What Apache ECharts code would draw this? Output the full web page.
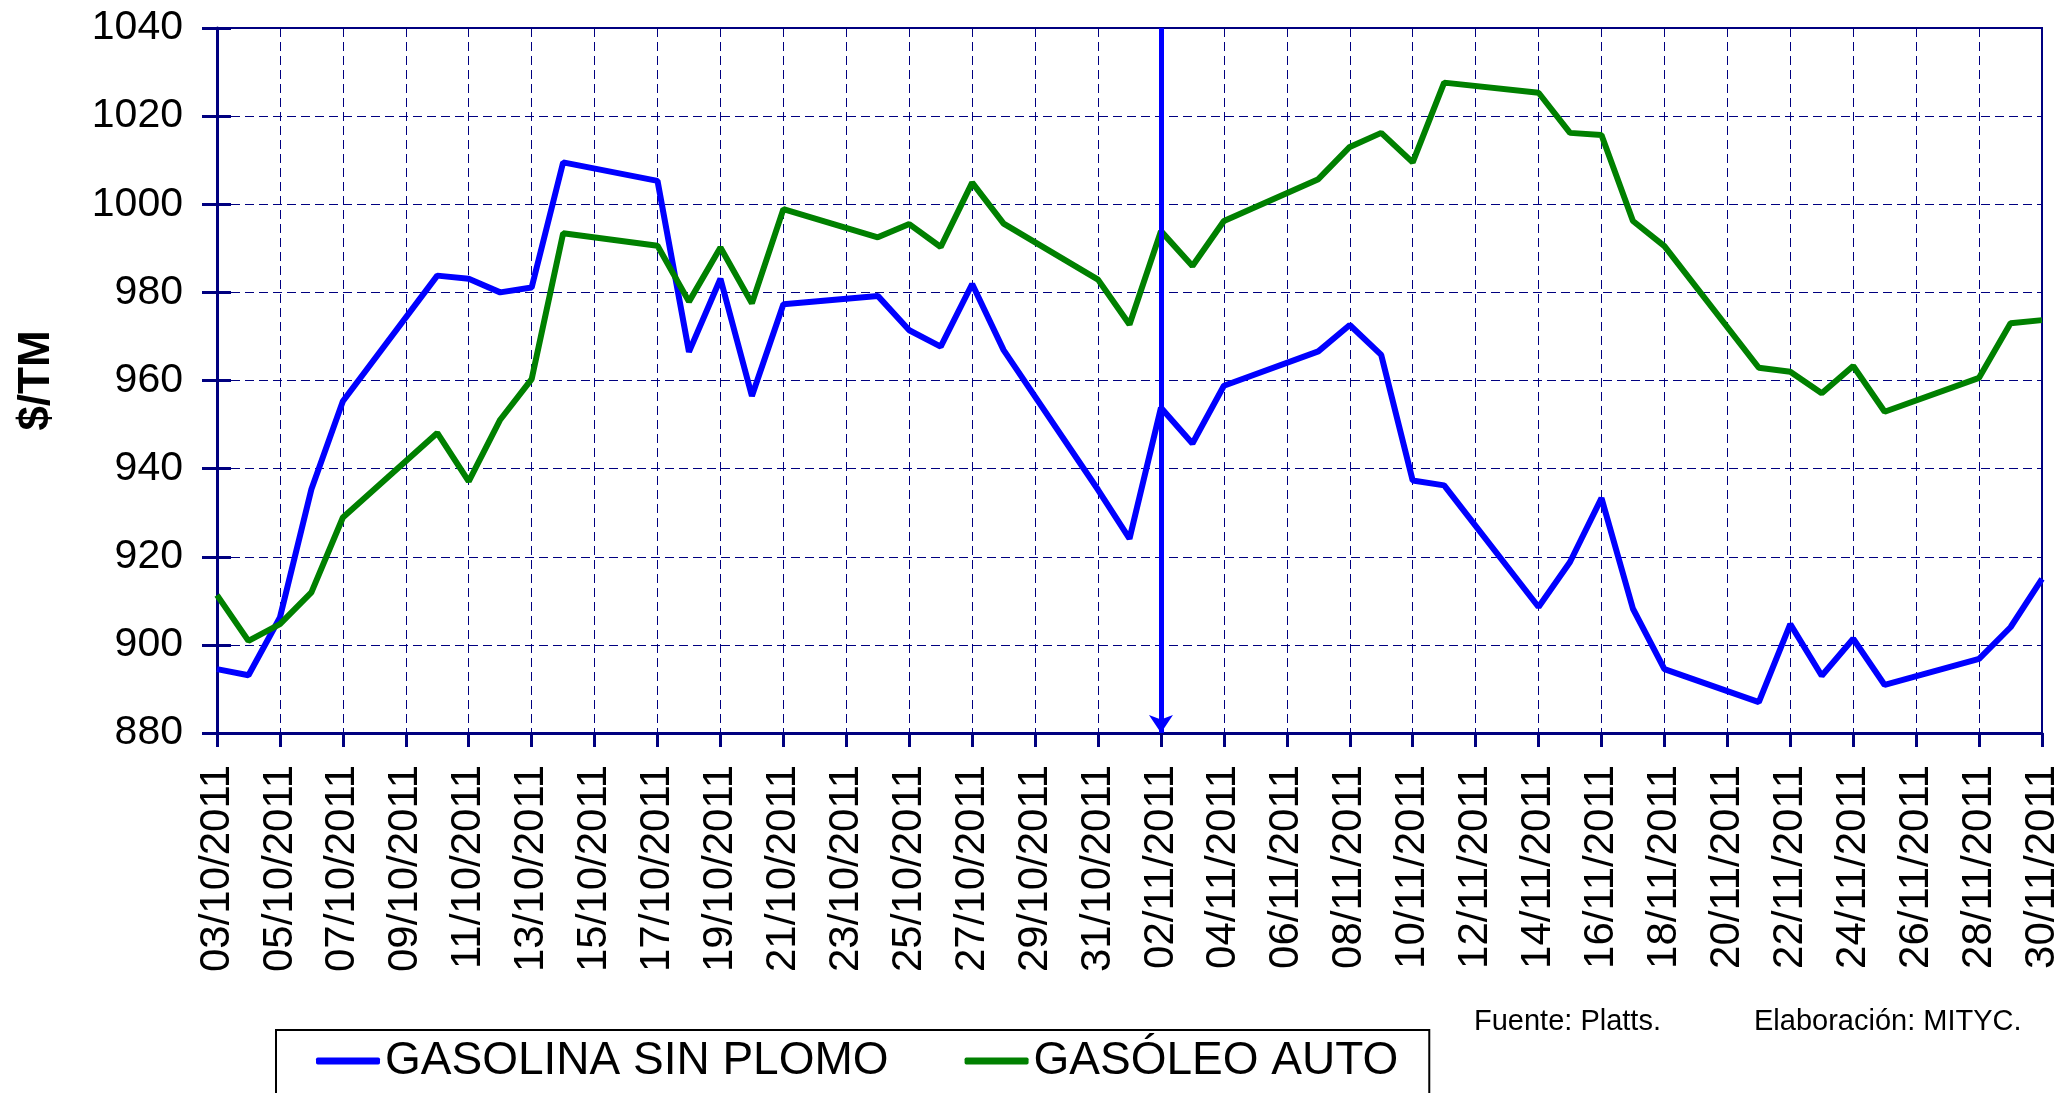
<!DOCTYPE html>
<html lang="es">
<head>
    <meta charset="UTF-8">
    <title>Cotizaciones internacionales</title>
    <script src="https://cdn.jsdelivr.net/npm/echarts@6/dist/echarts.min.js"></script>
    <style>html,body{margin:0;padding:0;background:#fff;}</style>
</head>
<body>
    <div id="main" style="width:2063px;height:1093px;"></div>

    <script>
// fechas (todos los dias, fines de semana sin dato)
var fechas = [
    '03/10/2011','04/10/2011','05/10/2011','06/10/2011','07/10/2011','08/10/2011','09/10/2011',
    '10/10/2011','11/10/2011','12/10/2011','13/10/2011','14/10/2011','15/10/2011','16/10/2011',
    '17/10/2011','18/10/2011','19/10/2011','20/10/2011','21/10/2011','22/10/2011','23/10/2011',
    '24/10/2011','25/10/2011','26/10/2011','27/10/2011','28/10/2011','29/10/2011','30/10/2011',
    '31/10/2011','01/11/2011','02/11/2011','03/11/2011','04/11/2011','05/11/2011','06/11/2011',
    '07/11/2011','08/11/2011','09/11/2011','10/11/2011','11/11/2011','12/11/2011','13/11/2011',
    '14/11/2011','15/11/2011','16/11/2011','17/11/2011','18/11/2011','19/11/2011','20/11/2011',
    '21/11/2011','22/11/2011','23/11/2011','24/11/2011','25/11/2011','26/11/2011','27/11/2011',
    '28/11/2011','29/11/2011','30/11/2011'
];

var gasolina = [
    894.5, 893.1, 906.2, 935.3, 955.3, null, null,
    983.8, 983.1, 980.0, 981.1, 1009.5, null, null,
    1005.3, 966.5, 983.1, 956.5, 977.3, null, null,
    979.2, 971.4, 967.7, 981.9, 966.9, null, null,
    935.2, 924.1, 953.8, 945.7, 958.8, null, null,
    966.6, 972.6, 965.8, 937.3, 936.2, null, null,
    908.6, 918.8, 933.3, 908.2, 894.5, null, null,
    887.0, 904.7, 893.0, 901.4, 890.9, null, null,
    896.8, 904.0, 915.0
];

var gasoleo = [
    911.3, 900.9, 904.7, 911.9, 928.9, null, null,
    948.1, 937.1, 951.1, 960.3, 993.4, null, null,
    990.6, 977.9, 990.2, 977.5, 998.9, null, null,
    992.5, 995.5, 990.3, 1004.9, 995.6, null, null,
    982.9, 972.7, 993.9, 986.0, 996.2, null, null,
    1005.7, 1013.0, 1016.2, 1009.5, 1027.6, null, null,
    1025.3, 1016.2, 1015.7, 996.2, 990.5, null, null,
    962.9, 962.0, 957.1, 963.3, 952.9, null, null,
    960.6, 973.0, 973.7
];

var fechaMarca = '02/11/2011';
var fuente = 'Fuente: Platts.';
var elaboracion = 'Elaboración: MITYC.';

var FONT = 'Liberation Sans, Arial, sans-serif';
var NAVY = '#000080';

var myChart = echarts.init(document.getElementById('main'));

myChart.setOption({
    backgroundColor: '#fff',
    animation: false,
    textStyle: { fontFamily: FONT },
    grid: { left: 217, right: 13, top: 28, bottom: 360, show: true, borderColor: NAVY, borderWidth: 2 },
    legend: {
        data: ['GASOLINA SIN PLOMO', 'GASÓLEO AUTO'],
        left: 276, top: 1030,
        padding: [8, 31, 40, 40],
        borderColor: '#000', borderWidth: 2,
        itemWidth: 64, itemHeight: 7, itemGap: 76,
        icon: 'roundRect',
        textStyle: { fontSize: 46, color: '#000', fontFamily: FONT }
    },
    xAxis: {
        type: 'category',
        data: fechas,
        boundaryGap: false,
        axisLine: { lineStyle: { color: NAVY, width: 3 } },
        axisTick: { interval: 1, length: 14, lineStyle: { color: NAVY, width: 3 } },
        axisLabel: { interval: 1, rotate: 90, margin: 32, fontSize: 42, color: '#000' },
        splitLine: { show: true, interval: 1, lineStyle: { color: NAVY, width: 1, type: [9, 5] } }
    },
    yAxis: [{
        type: 'value',
        min: 880, max: 1040, interval: 20,
        name: '$/TM',
        nameLocation: 'middle',
        nameRotate: 90,
        nameGap: 158,
        nameTextStyle: { fontSize: 44, fontWeight: 'bold', color: '#000' },
        axisLine: { show: true, lineStyle: { color: NAVY, width: 3 } },
        axisTick: { show: true, length: 15, lineStyle: { color: NAVY, width: 3 } },
        axisLabel: { fontSize: 41, color: '#000', margin: 34, formatter: function (v) { return String(v); } },
        splitLine: { show: true, lineStyle: { color: NAVY, width: 1, type: [9, 5] } }
    }, {
        // marcas interiores del eje
        type: 'value',
        position: 'left',
        min: 880, max: 1040, interval: 20,
        axisLine: { show: false },
        axisTick: { show: true, inside: true, length: 14, lineStyle: { color: NAVY, width: 3 } },
        axisLabel: { show: false },
        splitLine: { show: false }
    }],
    series: [{
        name: 'GASOLINA SIN PLOMO',
        type: 'line',
        data: gasolina,
        connectNulls: true,
        showSymbol: false,
        symbol: 'none',
        lineStyle: { color: '#0000FF', width: 6 },
        itemStyle: { color: '#0000FF' },
        markLine: {
            silent: true,
            symbol: ['arrow', 'none'],
            symbolSize: [18, 18],
            label: { show: false },
            lineStyle: { color: '#0000FF', width: 5, type: 'solid' },
            data: [{ xAxis: fechaMarca }]
        }
    }, {
        name: 'GASÓLEO AUTO',
        type: 'line',
        data: gasoleo,
        connectNulls: true,
        showSymbol: false,
        symbol: 'none',
        lineStyle: { color: '#008000', width: 6 },
        itemStyle: { color: '#008000' }
    }],
    graphic: [
        { type: 'text', left: 1474, top: 1007, style: { text: fuente, fontSize: 29, fill: '#000', fontFamily: FONT } },
        { type: 'text', left: 1754, top: 1007, style: { text: elaboracion, fontSize: 29, fill: '#000', fontFamily: FONT } }
    ]
});
    </script>
</body>
</html>
